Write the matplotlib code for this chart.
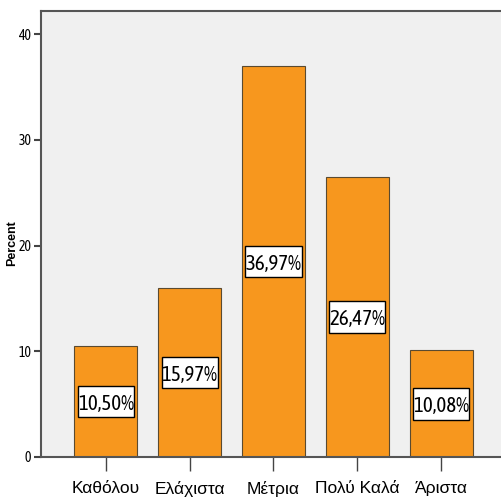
import matplotlib
matplotlib.use("Agg")
import matplotlib.pyplot as plt
from matplotlib.patches import Rectangle

categories = ["Καθόλου", "Ελάχιστα", "Μέτρια", "Πολύ Καλά", "Άριστα"]
percent = [10.50, 15.97, 36.97, 26.47, 10.08]
yticks = [0, 10, 20, 30, 40]

plt.rcParams['font.family'] = ['Asap Condensed', 'Liberation Sans', 'DejaVu Sans']

fig = plt.figure(figsize=(5.02, 5.0), dpi=100)
ax = fig.add_axes([41 / 502, 43 / 500, 465 / 502, 446 / 500])
ax.set_facecolor('#f0f0f0')

x = list(range(len(categories)))
ax.bar(x, percent, width=0.75, color='#f7971e', edgecolor='#5a4a30', linewidth=0.8, zorder=2)

for xi, v in zip(x, percent):
    label = f"{v:.2f}".replace('.', ',') + '%'
    ax.add_patch(Rectangle((xi - 0.335, v / 2 - 1.5), 0.67, 3.0, facecolor='white',
                           edgecolor='black', linewidth=1, zorder=3))
    ax.text(xi, v / 2, label, ha='center', va='center_baseline', fontsize=15, zorder=4)

ax.set_xlim(-0.774, 4.774)
ax.set_ylim(0, 42.2)
ax.set_xticks(x)
ax.set_xticklabels(categories, fontsize=12.5, family=['Liberation Sans', 'DejaVu Sans'])
ax.set_yticks(yticks)
ax.set_yticklabels([str(t) for t in yticks], fontsize=10)
ax.tick_params(axis='x', length=10, width=1, color='#444444', pad=7)
ax.tick_params(axis='y', length=5, width=1.5, color='#444444', pad=2)

for side in ['left', 'bottom', 'top']:
    ax.spines[side].set_color('#555555')
    ax.spines[side].set_linewidth(1.5)
ax.spines['right'].set_visible(False)

ax.set_ylabel('Percent', fontsize=9, fontweight='bold',
              family=['Liberation Sans', 'DejaVu Sans'])
ax.yaxis.set_label_coords(-23 / 465, 0.48)

fig.savefig('out.png', dpi=100)
